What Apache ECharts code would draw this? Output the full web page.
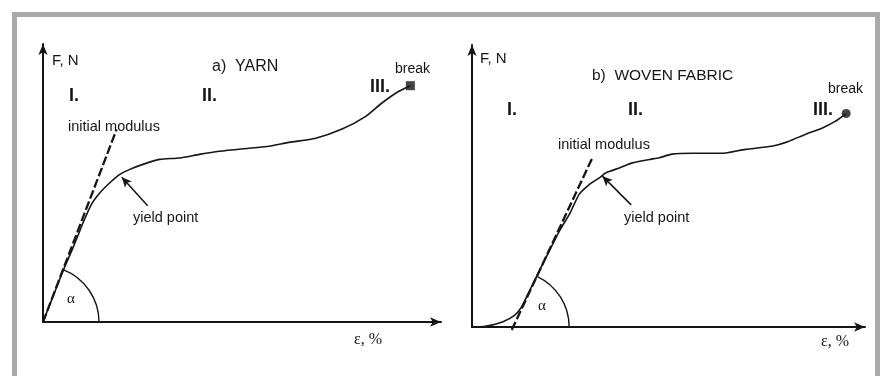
<!DOCTYPE html>
<html><head><meta charset="utf-8">
<script src="https://cdn.jsdelivr.net/npm/echarts@6/dist/echarts.min.js"></script>
<style>html,body{margin:0;padding:0;background:#fff}#c{width:880px;height:376px}</style>
</head><body><div id="c"></div>
<script>
// ---- data (strain in arbitrary %, force in arbitrary N) ----
const yarnStrain = [0,5.1,7.6,10.1,12.2,14.3,16.8,19.3,21.8,25.1,29.3,34.3,39.3,44.3,51.8,56.8,61.8,68.5,75,81,85,89.3,92.3];
const yarnForce  = [0,18.6,26.9,35.8,42.4,46.5,50.1,53.1,54.9,56.7,58.5,59,60.3,61.4,62.5,63.2,64.6,66.1,69.3,73.9,78.6,82.9,85];
const yarnModulusStrain = [0,18.5];
const yarnModulusForce  = [0,69.3];
const yarnBreak = [92.3,85];
const yarnYieldArrow = [[26.3,41.8],[19.8,52.1]];

const fabricStrain = [1.5,3.7,7.9,10.9,12.6,14.7,17.2,19.7,22.3,24.8,27.3,29.9,32.4,34.1,37.5,40.8,45.1,47.6,50.9,55.9,63.5,69.6,76.2,80.5,84.8,88.9,92.4,95.2];
const fabricForce  = [0,0.3,1.9,4.2,7.1,13,20.1,27.1,34.2,40,47.1,50.6,52.9,54.7,56.4,58.2,59.4,60,61.3,61.6,61.6,63,64.1,65.8,68.3,70.4,72.9,75.7];
const fabricModulusStrain = [10.1,30.6];
const fabricModulusForce  = [-1.1,59.9];
const fabricBreak = [95.2,75.7];
const fabricYieldArrow = [[40.5,43.3],[33.2,53.5]];

const regionLabels = ['I.','II.','III.'];
// ------------------------------------------------------------

const zip = (a,b)=>a.map((v,i)=>[v,b[i]]);
const INK = '#151515';
const sans = '"Liberation Sans", Arial, sans-serif';
const narrow = '"Liberation Sans Narrow", "Liberation Sans", Arial, sans-serif';
const serif = '"Liberation Serif", "DejaVu Serif", serif';

function axisPair(gi){
  const common = {
    gridIndex: gi, type:'value', min:0, max:100,
    axisLine:{show:true, onZero:false, symbol:['none','arrow'], symbolSize:[7,11], lineStyle:{color:INK, width:2}},
    axisTick:{show:false}, axisLabel:{show:false}, splitLine:{show:false}
  };
  return [Object.assign({}, common), Object.assign({}, common)];
}
const ax0 = axisPair(0), ax1 = axisPair(1);

function arcSeries(gi, modS, modF, r){
  return {
    type:'custom', xAxisIndex:gi, yAxisIndex:gi, silent:true,
    data:[[modS[0] - (modS[1]-modS[0])*modF[0]/(modF[1]-modF[0]), 0]],
    renderItem:(params, api)=>{
      const c = api.coord([api.value(0), api.value(1)]);
      const a = api.coord([modS[0], modF[0]]);
      const b = api.coord([modS[1], modF[1]]);
      const ang = Math.atan2(b[1]-a[1], b[0]-a[0]);
      return {type:'arc', shape:{cx:c[0], cy:c[1], r:r, startAngle:ang, endAngle:0, clockwise:true},
        style:{stroke:INK, fill:null, lineWidth:1.4}};
    }
  };
}

function panelSeries(gi, S, F, mS, mF, brk, brkSymbol, arrow){
  return [
    {type:'line', xAxisIndex:gi, yAxisIndex:gi, data:zip(S,F), showSymbol:false, smooth:0.2,
      lineStyle:{color:INK, width:1.6}, silent:true, z:3,
      markLine:{silent:true, symbol:['none','arrow'], symbolSize:[7,10], label:{show:false},
        lineStyle:{color:INK, width:1.5, type:'solid'},
        data:[[{coord:arrow[0], symbol:'none'},{coord:arrow[1], symbol:'arrow'}]]}},
    {type:'line', xAxisIndex:gi, yAxisIndex:gi, data:zip(mS,mF), showSymbol:false, clip:false,
      lineStyle:{color:INK, width:2.3, type:[9,3]}, silent:true, z:4},
    {type:'scatter', xAxisIndex:gi, yAxisIndex:gi, data:[brk], symbol:brkSymbol, symbolSize:9,
      itemStyle:{color:INK}, silent:true, z:5},
    arcSeries(gi, mS, mF, 56)
  ];
}

function txt(x, y, s, size, font, weight){
  return {type:'text', left:x, top:y - size*0.6, silent:true,
    style:{text:s, fill:INK, font: (weight||'normal')+' '+size+'px '+font}};
}

const chart = echarts.init(document.getElementById('c'), null, {renderer:'canvas'});
chart.setOption({
  animation:false,
  backgroundColor:'#fff',
  grid:[
    {left:43, top:44, width:398, height:278},
    {left:472, top:45, width:393, height:282}
  ],
  xAxis:[ax0[0], ax1[0]],
  yAxis:[ax0[1], ax1[1]],
  graphic:[
    {type:'rect', left:12, top:12, z:-10, silent:true, shape:{width:868, height:380}, style:{fill:'#a9a9ab'}},
    {type:'rect', left:17, top:17, z:-9, silent:true, shape:{width:858, height:380}, style:{fill:'#fff'}},
    // left panel texts
    txt(52, 62, 'F, N', 15, sans),
    txt(212, 68, 'a)  YARN', 16, sans),
    txt(395, 71, 'break', 14, sans),
    txt(69, 98, regionLabels[0], 18, narrow, 'bold'),
    txt(202, 98, regionLabels[1], 18, narrow, 'bold'),
    txt(370, 89, regionLabels[2], 18, narrow, 'bold'),
    txt(68, 128, 'initial modulus', 14.5, sans),
    txt(133, 219, 'yield point', 14.5, sans),
    txt(354, 341, 'ε, %', 16, serif),
    txt(67, 301, 'α', 15, serif),
    // right panel texts
    txt(480, 60, 'F, N', 15, sans),
    txt(592, 77, 'b)  WOVEN FABRIC', 15.5, sans),
    txt(828, 91, 'break', 14, sans),
    txt(507, 112, regionLabels[0], 18, narrow, 'bold'),
    txt(628, 112, regionLabels[1], 18, narrow, 'bold'),
    txt(813, 112, regionLabels[2], 18, narrow, 'bold'),
    txt(558, 146, 'initial modulus', 14.5, sans),
    txt(624, 219, 'yield point', 14.5, sans),
    txt(821, 343, 'ε, %', 16, serif),
    txt(538, 308, 'α', 15, serif)
  ],
  series:[].concat(
    panelSeries(0, yarnStrain, yarnForce, yarnModulusStrain, yarnModulusForce, yarnBreak, 'rect', yarnYieldArrow),
    panelSeries(1, fabricStrain, fabricForce, fabricModulusStrain, fabricModulusForce, fabricBreak, 'circle', fabricYieldArrow)
  )
});
</script></body></html>
